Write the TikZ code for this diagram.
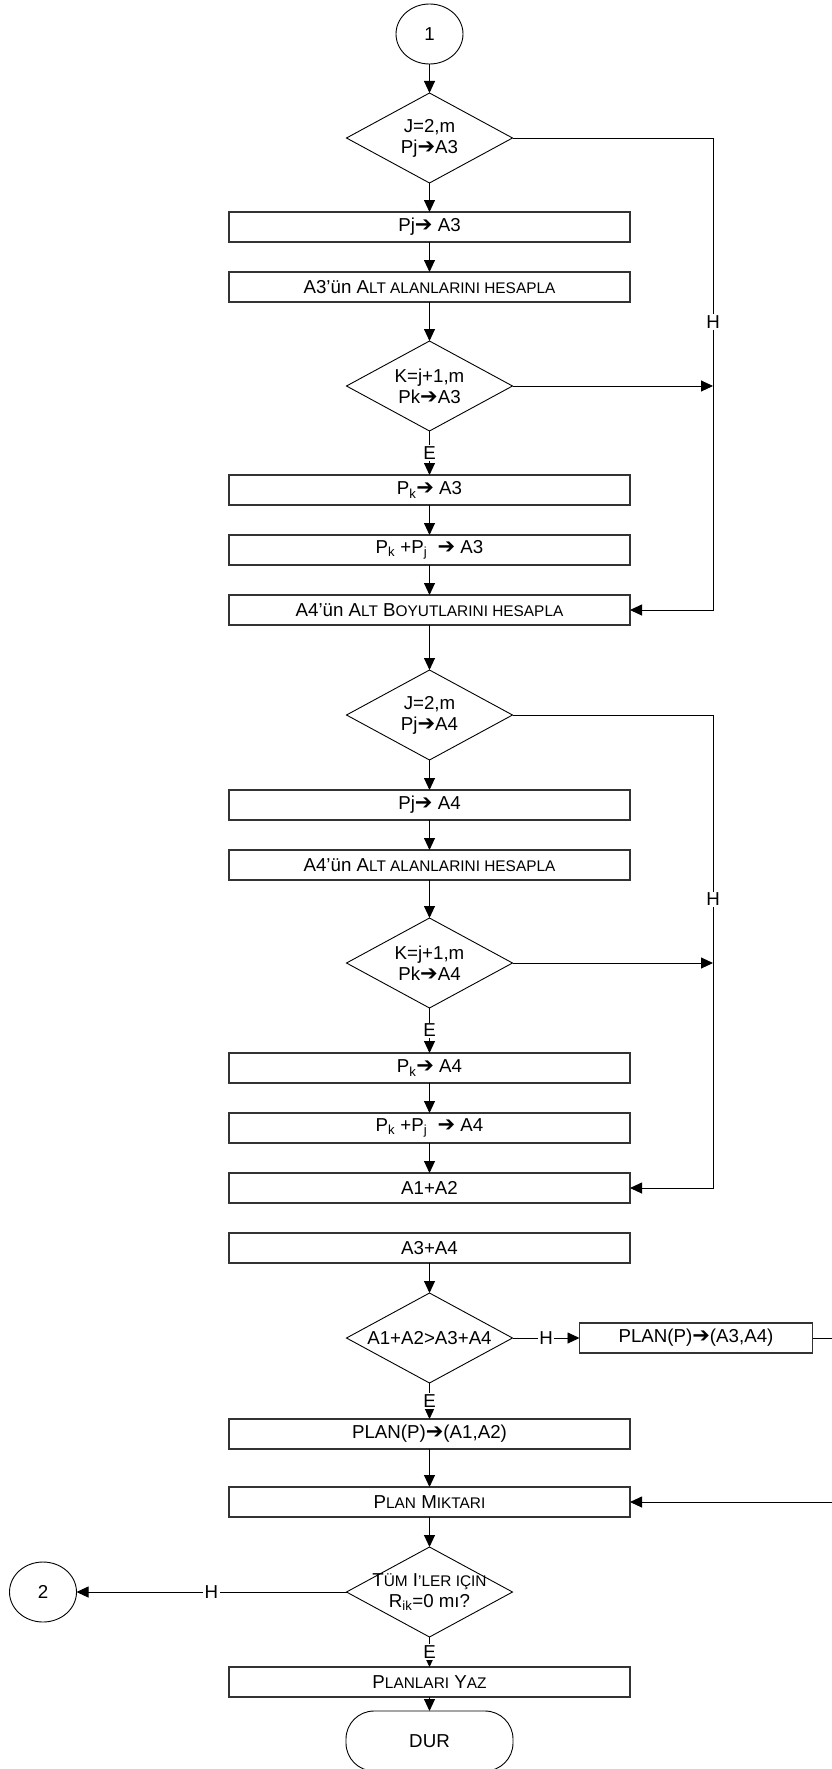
\documentclass[tikz,border=0pt]{standalone}
\usepackage{fontspec}
\setmainfont{Liberation Sans}
\newfontfamily\okfont{DejaVu Sans}
\usetikzlibrary{arrows.meta,positioning,shapes.geometric}
\newcommand{\kc}[1]{{\fontsize{15.4}{16}\selectfont #1}}
\newcommand{\sag}{{\okfont\fontsize{21}{21}\selectfont ➔}}
\tikzset{
    kutu/.style={
        rectangle,
        draw=black!80,
        line width=1.2pt,
        outer sep=0pt,
        inner sep=0pt,
        align=center,
        minimum width=401pt,
        minimum height=30pt
    },
    karar/.style={
        diamond,
        draw,
        line width=0.9pt,
        outer sep=0pt,
        inner sep=-3pt,
        align=center,
        aspect=1.85,
        minimum width=166pt,
        minimum height=90pt
    },
    baglanti/.style={ellipse, draw, line width=0.9pt, outer sep=0pt,
        minimum width=67pt, minimum height=60pt},
    bitis/.style={rectangle, draw, line width=0.9pt, outer sep=0pt,
        rounded corners=28pt, minimum width=167pt, minimum height=60pt},
    akis/.style={-{Triangle[length=12pt,width=11pt]}, line width=0.9pt},
    etiket/.style={fill=white, inner sep=1.5pt}
}

\begin{document}
\begin{tikzpicture}[x=1pt, y=1pt, font=\fontsize{18.7}{21}\selectfont]
        \useasboundingbox (0,0) rectangle (832,-1769);
        % ilk dongu (A3)
        \node[baglanti] (bas) at (429.5,-34) {1};
        \node[karar, below=29pt of bas] (dj1) {J=2,m\\Pj\sag A3};
        \node[kutu, below=29pt of dj1] (pj1) {Pj\sag\ A3};
        \node[kutu, below=30pt of pj1] (alt1)
            {A3'ün A\kc{LT ALANLARINI HESAPLA}};
        \node[karar, below=39pt of alt1] (dk1) {K=j+1,m\\Pk\sag A3};
        \node[kutu, below=44pt of dk1] (pk1) {P\textsubscript{k}\sag\ A3};
        \node[kutu, below=30pt of pk1] (pkj1)
            {P\textsubscript{k} +P\textsubscript{j}\ \ \sag\ A3};
        \node[kutu, below=30pt of pkj1] (boy)
            {A4'ün A\kc{LT} B\kc{OYUTLARINI HESAPLA}};
        % ikinci dongu (A4)
        \node[karar, below=45pt of boy] (dj2) {J=2,m\\Pj\sag A4};
        \node[kutu, below=30pt of dj2] (pj2) {Pj\sag\ A4};
        \node[kutu, below=30pt of pj2] (alt2)
            {A4'ün A\kc{LT ALANLARINI HESAPLA}};
        \node[karar, below=38pt of alt2] (dk2) {K=j+1,m\\Pk\sag A4};
        \node[kutu, below=45pt of dk2] (pk2) {P\textsubscript{k}\sag\ A4};
        \node[kutu, below=30pt of pk2] (pkj2)
            {P\textsubscript{k} +P\textsubscript{j}\ \ \sag\ A4};
        \node[kutu, below=30pt of pkj2] (a12) {A1+A2};
        \node[kutu, below=30pt of a12] (a34) {A3+A4};
        % karsilastirma
        \node[karar, below=30pt of a34] (kars) {A1+A2>A3+A4};
        \node[kutu, right=67pt of kars, minimum width=233pt] (plan34)
            {PLAN(P)\sag(A3,A4)};
        \node[kutu, below=36pt of kars] (plan12) {PLAN(P)\sag(A1,A2)};
        \node[kutu, below=38pt of plan12] (miktar) {P\kc{LAN} M\kc{IKTARI}};
        \node[karar, below=30pt of miktar, inner sep=-12pt] (sifir)
            {T\kc{ÜM} I\kc{’LER IÇIN}\\R\textsubscript{ik}=0 mı?};
        \node[baglanti, left=270pt of sifir] (iki) {2};
        \node[kutu, below=30pt of sifir] (yaz) {P\kc{LANLARI} Y\kc{AZ}};
        \node[bitis, below=14pt of yaz] (dur) {DUR};
        \coordinate[right=200.5pt of dj1.east] (sag1);
        \coordinate[right=200.5pt of dj2.east] (sag2);
        \coordinate[right=32pt of plan34.east] (sag3);
        % oklar
        \draw[akis] (bas) -- (dj1);
        \draw[akis] (dj1) -- (pj1);
        \draw[akis] (pj1) -- (alt1);
        \draw[akis] (alt1) -- (dk1);
        \draw[akis] (dk1) -- node[etiket] {E} (pk1);
        \draw[akis] (pk1) -- (pkj1);
        \draw[akis] (pkj1) -- (boy);
        \draw[akis] (dj1.east) -- (sag1)
            -- node[etiket, pos=0.39] {H} (sag1 |- boy.east) -- (boy.east);
        \draw[akis] (dk1.east) -- (sag1 |- dk1.east);
        \draw[akis] (boy) -- (dj2);
        \draw[akis] (dj2) -- (pj2);
        \draw[akis] (pj2) -- (alt2);
        \draw[akis] (alt2) -- (dk2);
        \draw[akis] (dk2) -- node[etiket] {E} (pk2);
        \draw[akis] (pk2) -- (pkj2);
        \draw[akis] (pkj2) -- (a12);
        \draw[akis] (dj2.east) -- (sag2)
            -- node[etiket, pos=0.39] {H} (sag2 |- a12.east) -- (a12.east);
        \draw[akis] (dk2.east) -- (sag2 |- dk2.east);
        \draw[akis] (a34) -- (kars);
        \draw[akis] (kars) -- node[etiket] {H} (plan34);
        \draw[akis] (kars) -- node[etiket] {E} (plan12);
        \draw[akis] (plan12) -- (miktar);
        \draw[akis] (plan34.east) -- (sag3) -- (sag3 |- miktar.east)
            -- (miktar.east);
        \draw[akis] (miktar) -- (sifir);
        \draw[akis] (sifir) -- node[etiket] {H} (iki);
        \draw[akis] (sifir) -- node[etiket] {E} (yaz);
        \draw[akis] (yaz) -- (dur);
    \end{tikzpicture}
\end{document}
